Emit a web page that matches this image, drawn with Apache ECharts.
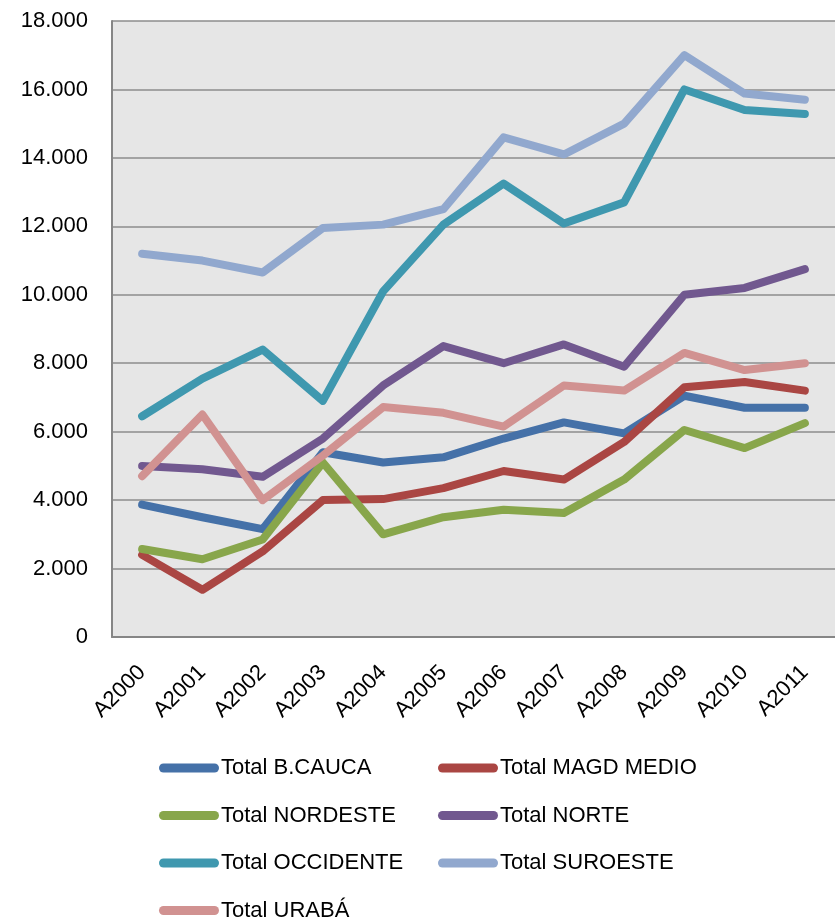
<!DOCTYPE html>
<html>
<head>
<meta charset="utf-8">
<script src="https://cdn.jsdelivr.net/npm/echarts@6/dist/echarts.min.js"></script>
<style>
html,body{margin:0;padding:0;background:#fff;}
#chart{width:835px;height:924px;}
</style>
</head>
<body>
<div id="chart"></div>
<script>
const categories = ['A2000','A2001','A2002','A2003','A2004','A2005','A2006','A2007','A2008','A2009','A2010','A2011'];
const bCauca     = [3870, 3500, 3150, 5400, 5100, 5250, 5800, 6270, 5950, 7050, 6700, 6700];
const magdMedio  = [2400, 1380, 2500, 4000, 4030, 4350, 4850, 4600, 5700, 7300, 7450, 7200];
const nordeste   = [2570, 2270, 2850, 5100, 3000, 3500, 3720, 3620, 4600, 6050, 5520, 6250];
const norte      = [5000, 4900, 4680, 5800, 7350, 8500, 8000, 8550, 7900, 10000, 10200, 10750];
const occidente  = [6450, 7550, 8400, 6900, 10100, 12050, 13250, 12080, 12700, 16000, 15400, 15280];
const suroeste   = [11200, 11000, 10650, 11950, 12050, 12500, 14600, 14100, 15000, 17000, 15880, 15700];
const uraba      = [4700, 6500, 4000, 5300, 6720, 6550, 6150, 7350, 7200, 8300, 7800, 8000];
const yTicks = { min: 0, max: 18000, interval: 2000 };

const seriesDefs = [
  { name: 'Total B.CAUCA', data: bCauca, color: '#4571A8' },
  { name: 'Total MAGD MEDIO', data: magdMedio, color: '#AA4643' },
  { name: 'Total NORDESTE', data: nordeste, color: '#88A64B' },
  { name: 'Total NORTE', data: norte, color: '#71588F' },
  { name: 'Total OCCIDENTE', data: occidente, color: '#3F98AF' },
  { name: 'Total SUROESTE', data: suroeste, color: '#91A8CE' },
  { name: 'Total URABÁ', data: uraba, color: '#D19291' }
];

const font = '"Liberation Sans", Arial, sans-serif';
const capsule = 'path://M4.5,0 H55.5 A4.5,4.5 0 0 1 55.5,9 H4.5 A4.5,4.5 0 0 1 4.5,0 Z';
// legend layout: [column, row] for each series, in series order
const legendCells = [[0,0],[1,0],[0,1],[1,1],[0,2],[1,2],[0,3]];
const colLeft = [159, 438];
const rowTop = 757, rowPitch = 47.5;

const legends = seriesDefs.map((s, i) => ({
  orient: 'horizontal',
  left: colLeft[legendCells[i][0]],
  top: rowTop + legendCells[i][1] * rowPitch,
  icon: capsule,
  itemWidth: 60,
  itemHeight: 9,
  selectedMode: false,
  padding: 0,
  data: [s.name],
  textStyle: { fontFamily: font, fontSize: 22, lineHeight: 22, color: '#000', padding: [0, 0, 0, -3] }
}));

const chart = echarts.init(document.getElementById('chart'), null, { renderer: 'canvas' });
chart.setOption({
  animation: false,
  backgroundColor: '#fff',
  grid: {
    left: 112, top: 21, width: 733, height: 616,
    show: true, backgroundColor: '#E6E6E6', borderWidth: 0
  },
  legend: legends,
  xAxis: {
    type: 'category',
    data: categories,
    boundaryGap: true,
    axisLine: { lineStyle: { color: '#868686', width: 2 } },
    axisTick: { show: false },
    axisLabel: { rotate: 45, margin: 32, fontFamily: font, fontSize: 22, color: '#000', interval: 0 }
  },
  yAxis: {
    type: 'value',
    min: yTicks.min, max: yTicks.max, interval: yTicks.interval,
    axisLine: { show: true, lineStyle: { color: '#868686', width: 2 } },
    axisTick: { show: false },
    splitLine: { lineStyle: { color: '#8C8C8C', width: 1.5 } },
    axisLabel: {
      margin: 24, fontFamily: font, fontSize: 22, color: '#000',
      formatter: function (v) {
        if (v === 0) return '0';
        return Math.floor(v / 1000) + '.' + String(v % 1000).padStart(3, '0');
      }
    }
  },
  series: seriesDefs.map(s => ({
    name: s.name,
    type: 'line',
    data: s.data,
    symbol: 'none',
    color: s.color,
    lineStyle: { width: 8, color: s.color, cap: 'round', join: 'round' },
    itemStyle: { color: s.color }
  }))
});
</script>
</body>
</html>
